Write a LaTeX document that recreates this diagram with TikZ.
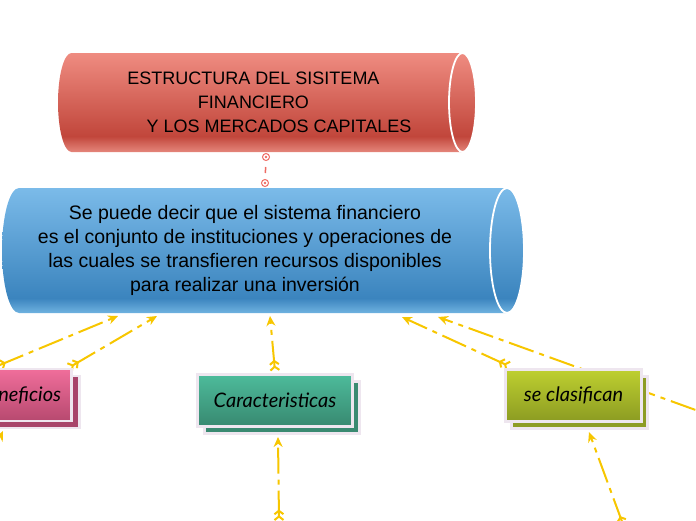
\documentclass[tikz,border=0pt]{standalone}
\usepackage{fontspec}
\setmainfont{Liberation Sans}
\newfontfamily\handfont{Lato}
\usetikzlibrary{arrows.meta, positioning, calc, shadows, backgrounds}

\definecolor{linkY}{HTML}{F7C600}
\definecolor{linkR}{HTML}{EE6B63}
\definecolor{redTop}{HTML}{EF8C81}
\definecolor{redDark}{HTML}{C1463B}
\definecolor{redEdge}{HTML}{E5867B}
\definecolor{bluTop}{HTML}{7BBBE9}
\definecolor{bluDark}{HTML}{3B84BE}
\definecolor{bluEdge}{HTML}{6FB2E0}
\definecolor{boxLine}{HTML}{EEE6EF}
\definecolor{pinkTop}{HTML}{F06E9B}
\definecolor{pinkBot}{HTML}{B7496F}
\definecolor{pinkSh}{HTML}{A8446A}
\definecolor{grnTop}{HTML}{4DBB9B}
\definecolor{grnBot}{HTML}{388970}
\definecolor{grnSh}{HTML}{3A8A71}
\definecolor{olvTop}{HTML}{BECF30}
\definecolor{olvBot}{HTML}{8C9B22}
\definecolor{olvSh}{HTML}{8D9C25}

\pgfdeclareverticalshading{redcyl}{100bp}{color(0bp)=(redEdge); color(25bp)=(redEdge);
  color(33bp)=(redDark); color(75bp)=(redTop); color(100bp)=(redTop)}
\pgfdeclareverticalshading{blucyl}{100bp}{color(0bp)=(bluEdge); color(25bp)=(bluEdge);
  color(31bp)=(bluDark); color(75bp)=(bluTop); color(100bp)=(bluTop)}

\tikzset{
  cyltext/.style = {inner sep=0pt, align=center, text=black},
  topic/.style   = {draw=boxLine, line width=2.6pt, minimum height=52pt, inner sep=0pt,
                    font=\handfont\itshape\fontsize{20}{24}\selectfont},
  link/.style    = {draw=linkY, line width=2pt, dash pattern=on 26pt off 6pt on 5pt off 6pt},
  arr/.style     = {-{Stealth[length=10pt,width=9pt]}},
  arrfl/.style   = {{Straight Barb[reversed,length=3.5pt,width=9pt]Straight Barb[reversed,length=3.5pt,width=9pt]}-{Stealth[length=10pt,width=9pt]}},
  dotmark/.style = {circle, draw=linkR, line width=1pt, minimum size=7pt, inner sep=0pt,
                    path picture={\fill[linkR] (path picture bounding box.center) circle (1.3pt);}},
  redlink/.style = {draw=linkR, line width=1.5pt, shorten <=6pt, shorten >=6pt},
}

\begin{document}
\begin{tikzpicture}[x=1pt, y=-1pt]
  \useasboundingbox (0,0) rectangle (696,520);

  % title cylinder
  \shade[shading=redcyl] (71.5,53) -- (462.5,53)
    arc[start angle=90, end angle=-90, x radius=13.5pt, y radius=49.5pt] -- (71.5,152)
    arc[start angle=270, end angle=90, x radius=13.5pt, y radius=49.5pt] -- cycle;
  \draw[white, line width=1.8pt] (462.5,102.5) ellipse [x radius=13.5pt, y radius=49.5pt];
  \node[cyltext, font=\fontsize{18}{24}\selectfont, minimum width=391pt, minimum height=99pt]
    (tit) at (253.5,102.5)
    {ESTRUCTURA DEL SISITEMA\\ FINANCIERO\\ \hspace*{51pt}Y LOS MERCADOS CAPITALES};

  % definition cylinder
  \shade[shading=blucyl] (19,188) -- (507,188)
    arc[start angle=90, end angle=-90, x radius=17pt, y radius=62.5pt] -- (19,313)
    arc[start angle=270, end angle=90, x radius=17pt, y radius=62.5pt] -- cycle;
  \draw[white, line width=1.8pt] (507,250.5) ellipse [x radius=17pt, y radius=62.5pt];
  \node[cyltext, font=\fontsize{19.5}{24}\selectfont, minimum width=486pt, minimum height=125pt]
    (def) at (245,250.5)
    {Se puede decir que el sistema financiero\\es el conjunto de instituciones y operaciones de\\
     las cuales se transfieren recursos disponibles\\para realizar una inversión};

  % title -> definition
  \node[dotmark] (m1) at (266,157) {};
  \node[dotmark] (m2) at (265,183) {};
  \draw[redlink] (m1) -- (m2);

  % sub topics
  \node[topic, minimum width=105pt, top color=pinkTop, bottom color=pinkBot,
        copy shadow={shadow xshift=8pt, shadow yshift=-7pt, fill=pinkSh, draw=boxLine}]
    (ben) at (19,395) {Beneficios};
  \node[topic, minimum width=155pt, top color=grnTop, bottom color=grnBot,
        copy shadow={shadow xshift=7pt, shadow yshift=-7pt, fill=grnSh, draw=boxLine}]
    (car) at (275,400.5) {Caracteristicas};
  \node[topic, minimum width=136pt, top color=olvTop, bottom color=olvBot,
        copy shadow={shadow xshift=6pt, shadow yshift=-7pt, fill=olvSh, draw=boxLine}]
    (scl) at (573.5,395.5) {se clasifican};

  % connectors (behind the boxes)
  \begin{pgfonlayer}{background}
    \coordinate (d1) at (118,316);
    \coordinate (d2) at (157,316);
    \coordinate (d3) at (270,316);
    \coordinate (d4) at (402,317);
    \coordinate (d5) at (438,317);
    \coordinate (b1) at (-5,367);
    \coordinate (far) at (740,426);
    \coordinate (lo1) at (-20,478);
    \coordinate (lo2) at (279,521);
    \coordinate (lo3) at (624,527);
    \coordinate (e1) at (3,431);
    \coordinate (e2) at (278,437);
    \coordinate (e3) at (589,432);

    \draw[link, arrfl] (b1) -- (d1);
    \draw[link, arrfl] ([xshift=-4pt]ben.north east) -- (d2);
    \draw[link, arrfl] ([yshift=2pt]car.north) -- (d3);
    \draw[link, arrfl] ([xshift=5pt,yshift=2pt]scl.north west) -- (d4);
    \draw[link, arrfl] (far) -- (d5);

    \draw[link, arrfl] (lo1) -- (e1);
    \draw[link, arrfl] (lo2) -- (e2);
    \draw[link, arrfl] (lo3) -- (e3);
  \end{pgfonlayer}
\end{tikzpicture}
\end{document}
